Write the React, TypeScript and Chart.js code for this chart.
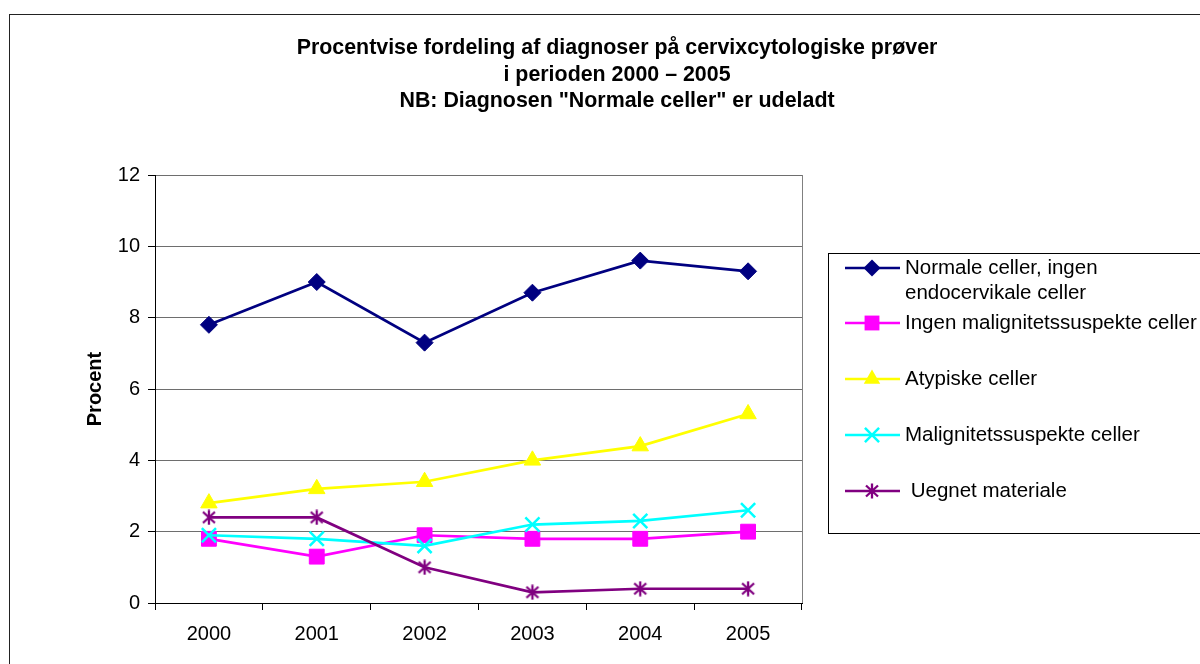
import React, { useEffect, useRef } from "react";
import { Chart, registerables } from "chart.js";

Chart.register(...registerables);

const years = ["2000", "2001", "2002", "2003", "2004", "2005"];
const normaleIngenEndo = [7.8, 9.0, 7.3, 8.7, 9.6, 9.3];
const ingenMalign = [1.8, 1.3, 1.9, 1.8, 1.8, 2.0];
const atypiske = [2.8, 3.2, 3.4, 4.0, 4.4, 5.3];
const malignSusp = [1.9, 1.8, 1.6, 2.2, 2.3, 2.6];
const uegnet = [2.4, 2.4, 1.0, 0.3, 0.4, 0.4];

const titleLines = [
  "Procentvise fordeling af diagnoser på cervixcytologiske prøver",
  "i perioden 2000 – 2005",
  'NB: Diagnosen "Normale celler" er udeladt',
];
const yTitle = "Procent";
const legendLabels = [
  ["Normale celler, ingen", "endocervikale celler"],
  ["Ingen malignitetssuspekte celler"],
  ["Atypiske celler"],
  ["Malignitetssuspekte celler"],
  [" Uegnet materiale"],
];
const seriesColors = ["#000080", "#FF00FF", "#FFFF00", "#00FFFF", "#800080"];
const seriesStyles = ["rectRot", "rect", "triangle", "crossRot", "asterisk"];
const seriesRadius = [8.5, 10.5, 9.5, 10, 7];

const FONT = "'Liberation Sans', Arial, Helvetica, sans-serif";

function makeAsterisk(color: string) {
  const c = document.createElement("canvas");
  c.width = 16;
  c.height = 16;
  const g = c.getContext("2d")!;
  g.strokeStyle = color;
  g.lineWidth = 2.3;
  g.beginPath();
  g.moveTo(2, 2.5); g.lineTo(14, 13.5);
  g.moveTo(14, 2.5); g.lineTo(2, 13.5);
  g.moveTo(8, 0.5); g.lineTo(8, 15.5);
  g.stroke();
  return c;
}

function drawMarker(ctx: CanvasRenderingContext2D, style: string, x: number, y: number, color: string, r: number, img?: HTMLCanvasElement) {
  ctx.save();
  ctx.fillStyle = color;
  ctx.strokeStyle = color;
  ctx.lineWidth = 2.5;
  ctx.beginPath();
  if (style === "rectRot") {
    ctx.moveTo(x - r, y); ctx.lineTo(x, y - r); ctx.lineTo(x + r, y); ctx.lineTo(x, y + r); ctx.closePath(); ctx.fill();
  } else if (style === "rect") {
    const s = r * Math.SQRT1_2;
    ctx.rect(x - s, y - s, 2 * s, 2 * s); ctx.fill();
  } else if (style === "triangle") {
    ctx.moveTo(x, y - r); ctx.lineTo(x + r * 0.866, y + r / 2); ctx.lineTo(x - r * 0.866, y + r / 2); ctx.closePath(); ctx.fill();
  } else if (style === "crossRot") {
    const s = r * Math.SQRT1_2;
    ctx.moveTo(x - s, y - s); ctx.lineTo(x + s, y + s); ctx.moveTo(x + s, y - s); ctx.lineTo(x - s, y + s); ctx.stroke();
  } else if (img) {
    ctx.drawImage(img, x - img.width / 2, y - img.height / 2);
  }
  ctx.restore();
}

export default function App() {
  const ref = useRef<HTMLCanvasElement | null>(null);

  useEffect(() => {
    if (!ref.current) return;
    const star = makeAsterisk(seriesColors[4]);
    const seriesData = [normaleIngenEndo, ingenMalign, atypiske, malignSusp, uegnet];

    const decor = {
      id: "decor",
      afterDraw(chart: any) {
        const { ctx, chartArea: ca } = chart;
        ctx.save();
        ctx.strokeStyle = "#808080";
        ctx.lineWidth = 1;
        ctx.beginPath();
        const rx = Math.round(ca.right) + 0.5;
        ctx.moveTo(rx, ca.top);
        ctx.lineTo(rx, ca.bottom);
        ctx.stroke();

        ctx.strokeStyle = "#222";
        ctx.lineWidth = 1;
        ctx.strokeRect(9.5, 14.5, 1400, 900);

        ctx.fillStyle = "#000";
        ctx.font = `bold 21.4px ${FONT}`;
        ctx.textAlign = "center";
        ctx.textBaseline = "alphabetic";
        titleLines.forEach((t, i) => ctx.fillText(t, 617, 54 + i * 26.5));

        // legend box
        ctx.strokeStyle = "#000";
        ctx.lineWidth = 1;
        ctx.strokeRect(828.5, 253.5, 400, 280);
        const entryY = [268, 323, 379, 435, 491];
        ctx.font = `20.5px ${FONT}`;
        ctx.textAlign = "left";
        ctx.textBaseline = "middle";
        legendLabels.forEach((lines, i) => {
          const y = entryY[i];
          ctx.strokeStyle = seriesColors[i];
          ctx.lineWidth = 2.5;
          ctx.beginPath();
          ctx.moveTo(845, y);
          ctx.lineTo(900, y);
          ctx.stroke();
          drawMarker(ctx, seriesStyles[i], 872, y, seriesColors[i], seriesRadius[i], star);
          ctx.fillStyle = "#000";
          lines.forEach((t, j) => ctx.fillText(t, 905, y + j * 25));
        });
        ctx.restore();
      },
    };

    const chart = new Chart(ref.current, {
      type: "line",
      data: {
        labels: years,
        datasets: seriesData.map((d, i) => ({
          label: legendLabels[i].join(" ").trim(),
          data: d,
          borderColor: seriesColors[i],
          backgroundColor: seriesColors[i],
          borderWidth: 2.7,
          pointStyle: (seriesStyles[i] === "asterisk" ? star : seriesStyles[i]) as any,
          pointRadius: seriesRadius[i],
          pointBackgroundColor: seriesColors[i],
          pointBorderColor: seriesColors[i],
          pointBorderWidth: seriesStyles[i] === "crossRot" ? 2.5 : 1,
          tension: 0,
          order: 5 - i,
          clip: false as any,
        })),
      },
      options: {
        responsive: false,
        animation: false,
        layout: { padding: { left: 0, top: 175, right: 398, bottom: 0 } },
        plugins: {
          legend: { display: false },
          title: { display: false },
          tooltip: { enabled: false },
        },
        scales: {
          x: {
            type: "category",
            offset: true,
            grid: {
              display: true,
              drawOnChartArea: false,
              drawTicks: true,
              tickLength: 7,
              tickColor: "#000",
              offset: true,
            },
            border: { display: true, color: "#000", width: 1 },
            ticks: { color: "#000", font: { family: FONT, size: 20 }, padding: 12, maxRotation: 0 },
            afterFit(scale: any) {
              scale.height = 61;
            },
          },
          y: {
            min: 0,
            max: 12,
            ticks: { stepSize: 2, color: "#000", font: { family: FONT, size: 20 }, padding: 8 },
            grid: { color: "#6e6e6e", lineWidth: 1, tickLength: 7, tickColor: "#000", drawTicks: true },
            border: { display: true, color: "#000", width: 1 },
            title: {
              display: true,
              text: yTitle,
              color: "#000",
              font: { family: FONT, size: 20, weight: "bold" },
              padding: { top: 83, bottom: 0 },
            },
            afterFit(scale: any) {
              scale.width = 155;
            },
          },
        },
      },
      plugins: [decor],
    });
    return () => chart.destroy();
  }, []);

  return (
    <div style={{ position: "fixed", left: 0, top: 0, width: 1200, height: 664, background: "#fff" }}>
      <canvas ref={ref} width={1200} height={664} />
    </div>
  );
}
